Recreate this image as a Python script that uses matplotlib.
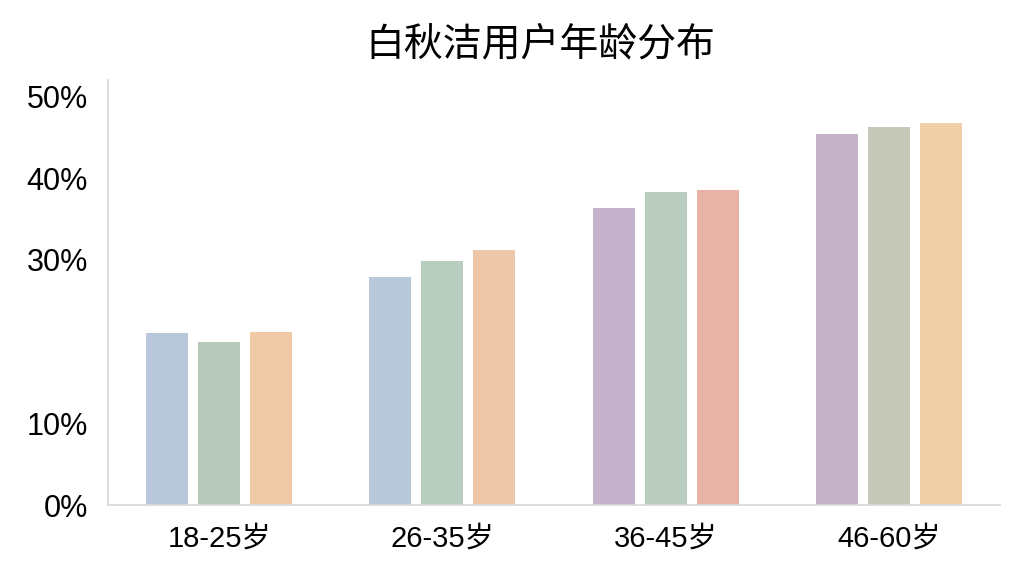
import matplotlib
matplotlib.use('Agg')
import matplotlib.pyplot as plt
import numpy as np

plt.rcParams['font.family'] = ['Liberation Sans', 'Noto Sans CJK SC', 'DejaVu Sans']

age_groups = ['18-25岁', '26-35岁', '36-45岁', '46-60岁']
bar1 = [21.0, 27.9, 36.3, 45.4]
bar2 = [19.9, 29.9, 38.3, 46.2]
bar3 = [21.2, 31.2, 38.5, 46.8]
ytick_vals = [0, 10, 30, 40, 50]
ytick_labels = ['0%', '10%', '30%', '40%', '50%']

colors1 = ['#b8c8da', '#b9c9db', '#c4b3cb', '#c3b2c8']
colors2 = ['#b8c9bc', '#b8ccbf', '#b9ccbf', '#c6c9b9']
colors3 = ['#f0c9a6', '#eec6a8', '#e9b2a7', '#f0cfa9']

fig = plt.figure(figsize=(10.24, 5.76), dpi=100)
ax = fig.add_axes([0.105, 0.123, 0.872, 0.738])

x = np.arange(len(age_groups))
w = 0.188
off = 0.233
ax.bar(x - off, bar1, w, color=colors1)
ax.bar(x, bar2, w, color=colors2)
ax.bar(x + off, bar3, w, color=colors3)

ax.set_xlim(-0.5, 3.5)
ax.set_ylim(0, 52)
ax.set_xticks(x)
ax.set_xticklabels(age_groups, fontsize=21)
ax.set_yticks(ytick_vals)
ax.set_yticklabels(ytick_labels, fontsize=22)
ax.tick_params(axis='y', length=0, pad=14)
ax.tick_params(axis='x', length=0, pad=14)

for s in ['top', 'right']:
    ax.spines[s].set_visible(False)
for s in ['left', 'bottom']:
    ax.spines[s].set_color('#d8d8d8')
    ax.spines[s].set_linewidth(1.2)

fig.text(0.528, 0.922, '白秋洁用户年龄分布', ha='center', va='center', fontsize=28)

fig.savefig('out.png', dpi=100, facecolor='white')
